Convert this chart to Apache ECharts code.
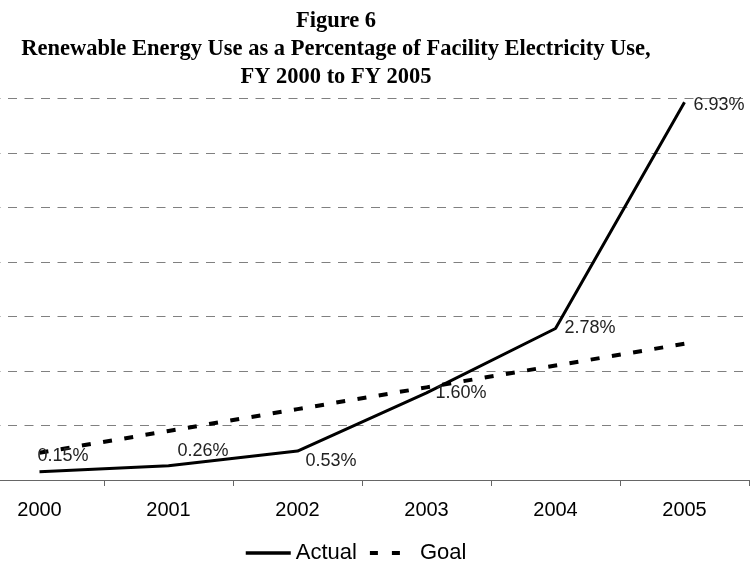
<!DOCTYPE html>
<html>
<head>
<meta charset="utf-8">
<script src="https://cdn.jsdelivr.net/npm/echarts@6/dist/echarts.min.js"></script>
<style>
  html, body { margin: 0; padding: 0; background: #fff; }
  #chart { width: 752px; height: 562px; }
</style>
</head>
<body>
<div id="chart"></div>
<script>
// 数据
const years = ['2000', '2001', '2002', '2003', '2004', '2005'];
const actual = [0.15, 0.26, 0.53, 1.60, 2.78, 6.93];
const goal = [0.5, 0.9, 1.3, 1.7, 2.1, 2.5];
// 标签偏移 (每个点)
const labelOffsets = [[-7, -16], [4, -15], [3, 10], [4, 0], [4, 0], [4, 3]];

let chart = echarts.init(document.getElementById('chart'));
let option = {
    animation: false,
    // 标题
    title: {
        text: 'Figure 6\nRenewable Energy Use as a Percentage of Facility Electricity Use,\nFY 2000 to FY 2005',
        left: 336,
        top: 7,
        padding: 0,
        textAlign: 'center',
        textStyle: {
            fontFamily: 'Liberation Serif',
            fontWeight: 'bold',
            fontSize: 22.5,
            lineHeight: 28,
            color: '#000'
        }
    },
    // 图例
    legend: {
        data: [
            { name: 'Actual', lineStyle: { width: 3.5 } },
            { name: 'Goal', lineStyle: { width: 4, type: [8, 14, 8, 40] } }
        ],
        left: 244,
        top: 542,
        padding: 0,
        itemWidth: 45,
        itemHeight: 20,
        itemGap: 11,
        itemStyle: { opacity: 0 },
        textStyle: {
            fontFamily: 'Liberation Sans',
            fontSize: 22,
            color: '#000'
        }
    },
    grid: {
        left: -25,
        right: 3,
        top: 98.5,
        bottom: 82,
        outerBoundsMode: 'none'
    },
    // x轴
    xAxis: {
        type: 'category',
        data: years,
        boundaryGap: true,
        axisLine: { lineStyle: { color: '#666', width: 1 } },
        axisTick: { show: true, length: 6, lineStyle: { color: '#666' } },
        axisLabel: {
            margin: 20,
            fontFamily: 'Liberation Sans',
            fontSize: 20,
            color: '#000'
        }
    },
    // y轴
    yAxis: {
        type: 'value',
        min: 0,
        max: 7,
        interval: 1,
        axisLine: { show: false },
        axisTick: { show: false },
        axisLabel: { show: false },
        splitLine: {
            lineStyle: { color: '#808080', width: 1, type: [9, 7.5] }
        }
    },
    series: [
        {
            name: 'Actual',
            type: 'line',
            symbol: 'circle',
            symbolSize: 0,
            showSymbol: true,
            data: actual.map(function (v, i) {
                return {
                    value: v,
                    label: { offset: labelOffsets[i] }
                };
            }),
            lineStyle: { color: '#000', width: 3 },
            itemStyle: { color: '#000' },
            label: {
                show: true,
                position: 'right',
                distance: 5,
                fontFamily: 'Liberation Sans',
                fontSize: 18,
                color: '#222',
                formatter: function (p) {
                    return p.value.toFixed(2) + '%';
                }
            },
            z: 3
        },
        {
            name: 'Goal',
            type: 'line',
            symbol: 'none',
            data: goal,
            lineStyle: { color: '#000', width: 4, type: [9, 12.5] },
            itemStyle: { color: '#000' },
            z: 2
        }
    ]
};
chart.setOption(option);
</script>
</body>
</html>
